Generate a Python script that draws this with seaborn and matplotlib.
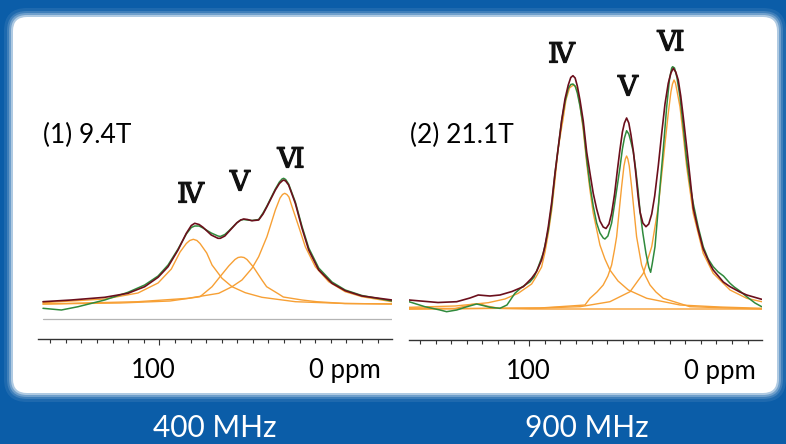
import matplotlib
matplotlib.use('Agg')
import matplotlib.pyplot as plt
import matplotlib.patheffects as pe
import seaborn as sns
from matplotlib.patches import FancyBboxPatch
from matplotlib.transforms import ScaledTranslation

# ---- data (ppm, intensity a.u.) ----
# left panel: 9.4 T (400 MHz)
left_exp_ppm = [174.6, 162.8, 152.1, 135.0, 120.1, 109.4, 100.8, 94.4, 88.0, 82.7, 79.5, 77.3, 74.5, 72.0, 66.7,
                62.4, 60.9, 58.0, 55.5, 50.2, 47.8, 45.9, 43.5, 40.6, 36.3, 33.5, 31.0, 25.6, 23.0, 21.3, 20.3,
                19.0, 17.1, 12.8, 8.5, 4.2, -2.2, -10.7, -19.2, -29.9, -49.2]
left_exp_int = [-4.3, -6.0, -2.7, 4.0, 11.7, 19.0, 28.0, 39.0, 55.0, 70.0, 76.5, 78.0, 78.0, 76.0, 71.0,
                68.0, 67.5, 69.5, 73.0, 81.3, 84.0, 84.5, 84.0, 83.5, 84.5, 91.0, 98.0, 115.0, 122.0, 125.0, 125.7,
                124.5, 120.0, 102.0, 77.5, 56.0, 36.0, 22.0, 14.0, 8.5, 3.0]
left_fit_ppm = [174.6, 156.4, 135.0, 120.1, 109.4, 100.8, 94.4, 88.0, 82.7, 79.5, 77.3, 74.5, 72.0, 66.7, 62.4,
                60.9, 58.0, 55.5, 50.2, 47.8, 45.9, 43.5, 40.6, 36.3, 33.5, 31.0, 25.6, 23.0, 21.3, 20.3, 19.0,
                17.1, 12.8, 8.5, 4.2, -2.2, -10.7, -19.2, -29.9, -49.2]
left_fit_int = [2.3, 4.0, 6.7, 10.7, 17.3, 26.7, 37.3, 54.0, 70.7, 78.5, 80.7, 79.5, 76.7, 69.0, 65.7,
                65.7, 68.0, 72.3, 81.3, 84.0, 85.0, 84.5, 83.3, 84.0, 90.0, 97.3, 114.0, 120.5, 123.0, 124.0, 123.0,
                119.0, 100.7, 75.7, 54.0, 34.0, 20.7, 13.3, 8.0, 4.0]
left_iv_ppm = [174.6, 135.0, 113.7, 100.8, 92.3, 86.7, 82.7, 80.5, 78.2, 75.9, 73.9, 69.6, 66.2, 59.8, 53.4,
               44.9, 34.2, 12.8, -19.0, -49.2]
left_iv_int = [1.3, 5.0, 11.0, 21.0, 35.0, 52.0, 60.5, 63.5, 64.7, 63.5, 60.5, 51.0, 39.0, 25.7, 17.3,
               11.3, 6.7, 2.3, 0.5, 0.0]
left_v_ppm = [174.6, 125.2, 93.1, 73.9, 66.2, 61.9, 55.5, 51.5, 49.5, 47.6, 45.7, 43.8, 39.7, 34.2, 31.2,
              23.5, 20.5, 8.5, -0.9, -19.0, -49.2]
left_v_int = [0.0, 1.0, 3.0, 7.3, 17.3, 25.7, 38.0, 44.5, 46.5, 47.0, 46.5, 44.5, 37.0, 24.0, 17.3,
              10.0, 7.0, 4.0, 2.3, 0.5, 0.0]
left_vi_ppm = [174.6, 113.7, 81.6, 61.9, 53.4, 47.0, 40.6, 36.3, 31.0, 25.6, 22.6, 21.0, 19.6, 18.2, 16.9,
               14.9, 10.6, 6.4, 0.0, -8.6, -19.2, -29.9, -49.2]
left_vi_int = [0.0, 2.3, 5.7, 10.7, 17.3, 24.0, 35.7, 47.3, 67.3, 94.0, 106.0, 109.5, 110.7, 109.5, 107.0,
               97.3, 77.3, 57.3, 37.3, 22.3, 12.3, 7.3, 2.3]
left_ref_level = -15.0

# right panel: 21.1 T (900 MHz)
right_exp_ppm = [177.1, 166.9, 157.2, 153.0, 146.5, 140.6, 133.7, 129.7, 125.2, 118.8, 114.3, 109.2, 104.7, 99.6,
                 96.9, 94.2, 91.0, 87.8, 85.6, 83.5, 81.3, 79.2, 77.1, 75.0, 73.4, 72.0, 70.6, 69.2, 67.5, 65.4,
                 63.2, 61.1, 59.0, 56.8, 54.7, 52.6, 51.5, 49.6, 47.2, 45.3, 43.5, 41.9, 40.3, 39.0, 37.6, 36.2,
                 34.8, 33.3, 31.8, 30.2, 29.0, 27.2, 25.2, 23.4, 22.2, 21.2, 19.4, 17.9, 16.2, 14.1, 11.9, 10.1,
                 8.7, 8.1, 6.9, 5.4, 3.4, 1.3, -0.9, -3.0, -5.1, -8.3, -11.5, -14.7, -17.9, -21.1, -24.5, -28.7,
                 -31.4, -35.0, -39.4, -44.7, -49.0]
right_exp_int = [7.3, 2.3, -1.0, -2.7, -1.0, 2.0, 5.0, 3.5, 1.7, 0.7, 4.0, 15.7, 22.0, 27.0,
                 32.0, 42.3, 56.0, 79.0, 104.0, 136.0, 163.0, 189.0, 207.0, 220.7, 224.5, 225.0, 223.0, 216.0, 203.0, 183.0,
                 150.0, 124.0, 103.0, 86.0, 76.0, 71.0, 70.0, 73.0, 86.0, 105.0, 124.0, 141.0, 160.0, 171.0, 178.3, 175.0,
                 167.0, 157.0, 140.0, 118.0, 98.0, 76.0, 55.7, 42.0, 36.7, 45.0, 62.3, 90.0, 122.3, 160.0, 202.3, 230.0,
                 241.0, 242.3, 241.0, 232.0, 212.3, 183.0, 149.0, 125.0, 105.7, 82.0, 62.3, 50.0, 42.3, 37.0, 33.0, 25.7,
                 22.0, 18.0, 12.3, 6.0, 2.3]
right_fit_ppm = [177.1, 158.5, 146.5, 138.0, 132.7, 125.2, 118.8, 111.1, 103.8, 98.5, 95.3, 92.1, 89.9, 87.8,
                 85.6, 83.5, 81.3, 79.2, 77.1, 75.0, 73.4, 72.0, 70.6, 69.2, 67.5, 65.4, 63.2, 61.1, 59.0, 56.8,
                 54.7, 52.6, 50.8, 48.9, 47.2, 45.3, 43.5, 41.9, 40.3, 39.0, 37.6, 36.2, 34.8, 33.3, 31.8, 30.2,
                 29.0, 27.2, 25.2, 23.4, 21.5, 19.6, 17.3, 15.1, 13.0, 10.9, 9.2, 7.7, 6.1, 4.5, 2.9, 1.3, -0.9,
                 -3.0, -5.1, -8.3, -11.5, -15.8, -17.9, -24.4, -28.7, -35.0, -39.4, -49.0]
right_fit_int = [9.0, 6.5, 7.3, 11.0, 14.0, 13.0, 14.0, 17.5, 22.3, 30.7, 37.5, 49.0, 63.0, 82.3,
                 107.0, 135.7, 163.0, 189.0, 210.0, 224.0, 231.5, 233.3, 231.0, 223.0, 209.0, 188.0, 157.0, 136.0, 115.7, 100.0,
                 88.0, 82.0, 80.5, 85.0, 95.7, 115.0, 139.0, 159.0, 177.0, 186.0, 191.0, 186.0, 174.0, 158.0, 137.0, 112.0,
                 97.0, 86.0, 82.3, 85.0, 95.0, 113.0, 143.0, 175.7, 205.0, 225.7, 236.0, 240.7, 237.0, 229.0, 213.0, 192.3, 162.0,
                 132.3, 101.0, 79.0, 60.0, 45.0, 39.0, 27.0, 22.3, 17.0, 14.0, 9.7]
right_iv_ppm = [177.1, 147.6, 126.3, 115.6, 107.1, 98.5, 95.7, 92.1, 89.9, 87.8, 85.6, 83.5, 81.6, 79.2, 78.4,
                76.5, 74.2, 71.8, 69.4, 67.5, 65.4, 63.2, 61.1, 59.0, 54.7, 51.5, 48.3, 43.1, 36.5, 24.7, 3.4,
                -22.2, -49.0]
right_iv_int = [1.7, 3.0, 6.3, 10.0, 15.7, 25.0, 32.0, 42.0, 57.0, 75.7, 99.0, 129.0, 159.0, 182.0, 189.0,
                209.0, 221.0, 224.0, 221.0, 204.0, 179.0, 146.0, 119.0, 96.0, 64.0, 50.0, 39.0, 28.0, 19.0, 10.7, 4.0,
                2.0, 0.7]
right_v_ppm = [177.1, 93.1, 64.3, 61.1, 56.6, 52.6, 49.6, 47.2, 45.4, 44.0, 42.3, 40.8, 39.3, 38.4, 37.6, 36.8,
               35.9, 34.4, 32.9, 31.2, 29.7, 28.0, 25.5, 22.6, 18.8, 14.1, -3.0, -49.0]
right_v_int = [0.0, 1.0, 4.0, 10.7, 17.0, 24.0, 33.0, 44.0, 59.0, 72.3, 99.0, 122.3, 143.0, 150.0, 153.0, 150.0,
               143.0, 122.3, 99.0, 72.3, 59.0, 44.0, 33.0, 24.0, 17.0, 10.7, 2.3, 0.0]
right_vi_ppm = [177.1, 93.1, 67.5, 48.3, 35.4, 26.9, 21.5, 17.3, 14.1, 10.9, 9.2, 8.2, 7.2, 6.3, 5.4, 3.4, 1.3,
                -0.9, -5.1, -11.5, -17.9, -28.7, -39.4, -49.0]
right_vi_int = [0.0, 1.0, 2.3, 7.3, 17.3, 35.7, 62.3, 102.3, 149.0, 195.7, 217.0, 225.0, 229.0, 226.0, 219.0,
                202.3, 174.0, 142.3, 95.7, 55.7, 35.7, 19.0, 10.7, 7.3]
right_ssb_ppm = [177.1, 147.6, 140.6, 137.0, 133.7, 130.5, 127.1, 118.8, 99.6, -49.0]
right_ssb_int = [1.0, 0.5, 3.0, 4.5, 5.0, 4.5, 3.0, 0.5, 0.0, 0.0]

site_labels = ['\u2163', '\u2164', '\u2165']
left_label_ppm = [80.0, 48.3, 15.6]
left_label_int = [109, 121, 144]
right_label_ppm = [79.4, 36.7, 9.2]
right_label_int = [254, 221, 266]
panel_titles = ['(1) 9.4T', '(2) 21.1T']
field_labels = ['400 MHz', '900 MHz']
minor_ticks = list(range(170, -41, -10))

# ---- style ----
W, H = 786, 444
BLUE = '#0b5da8'
GREEN = '#2f8a3c'
DARKRED = '#6b0f1c'
ORANGE = '#f7a035'

sns.set_theme(style='white')
plt.rcParams['font.family'] = ['Lato', 'DejaVu Sans']

fig = plt.figure(figsize=(W / 100, H / 100), dpi=100)
fig.patch.set_facecolor(BLUE)


def px_box(x0, y0, x1, y1):
    return [x0 / W, 1 - y1 / H, (x1 - x0) / W, (y1 - y0) / H]


# background: white rounded card with soft edge
bg = fig.add_axes([0, 0, 1, 1])
bg.set_xlim(0, W)
bg.set_ylim(H, 0)
bg.axis('off')
for grow, alpha in [(9, 0.08), (6, 0.15), (4, 0.25), (2, 0.45)]:
    bg.add_patch(FancyBboxPatch((13 - grow, 17 - grow), 764 + 2 * grow, 376 + 2 * grow,
                                boxstyle=f'round,pad=0,rounding_size={14 + grow}',
                                fc='white', ec='none', alpha=alpha))
bg.add_patch(FancyBboxPatch((13, 17), 764, 376, boxstyle='round,pad=0,rounding_size=14',
                            fc='white', ec='none'))
for cx, lab in zip([215, 587], field_labels):
    bg.text(cx, 428, lab, color='white', fontsize=21.5, ha='center', va='center')


def draw_panel(ax, curves, label_ppm, label_int, title, title_xy, xlim, ylim, lab100_dx, lab0_dx):
    for ppm, inten, color, lw in curves:
        sns.lineplot(x=ppm, y=inten, ax=ax, color=color, lw=lw, sort=False, estimator=None)
    for lab, xp, yi in zip(site_labels, label_ppm, label_int):
        ax.text(xp, yi, lab, fontsize=20, ha='center', va='center', color='#111111',
                family=['DejaVu Serif', 'DejaVu Sans'],
                path_effects=[pe.withStroke(linewidth=0.9, foreground='#111111')])
    ax.text(title_xy[0], title_xy[1], title, fontsize=19, ha='left', va='center', color='black')
    ax.set_xlim(*xlim)
    ax.set_ylim(*ylim)
    ax.patch.set_alpha(0)
    for side in ['left', 'right', 'top']:
        ax.spines[side].set_visible(False)
    ax.spines['bottom'].set_color('#333333')
    ax.spines['bottom'].set_linewidth(1.0)
    ax.set_yticks([])
    ax.set_xticks([100, 0])
    ax.set_xticklabels(['100', '0 ppm'], fontsize=18.5, color='black')
    ax.set_xticks(minor_ticks, minor=True)
    ax.tick_params(axis='x', which='major', bottom=True, direction='out', length=4.5, width=0.8,
                   color='#333333', pad=9)
    ax.tick_params(axis='x', which='minor', bottom=True, direction='out', length=2.6, width=0.8,
                   color='#333333')
    ax.xaxis.get_major_ticks()[1].tick1line.set_markersize(2.6)
    labs = ax.get_xticklabels()
    labs[0].set_transform(labs[0].get_transform() + ScaledTranslation(lab100_dx / 100, 0, fig.dpi_scale_trans))
    labs[1].set_horizontalalignment('left')
    labs[1].set_transform(labs[1].get_transform() + ScaledTranslation(lab0_dx / 100, 0, fig.dpi_scale_trans))
    ax.set_xlabel('')
    ax.set_ylabel('')


ax1 = fig.add_axes(px_box(38.3, 20, 391.7, 339))
ax1.axhline(left_ref_level, xmin=0.014, xmax=1.0, color='#b4b4b4', lw=0.9)
draw_panel(ax1,
           [(left_iv_ppm, left_iv_int, ORANGE, 1.0),
            (left_v_ppm, left_v_int, ORANGE, 1.0),
            (left_vi_ppm, left_vi_int, ORANGE, 1.0),
            (left_exp_ppm, left_exp_int, GREEN, 1.1),
            (left_fit_ppm, left_fit_int, DARKRED, 1.2)],
           left_label_ppm, left_label_int, panel_titles[0], (174.6, 169),
           (177.6, -49.0), (-35, 284), -6, -6)

ax2 = fig.add_axes(px_box(409, 20, 761.7, 340))
draw_panel(ax2,
           [(right_ssb_ppm, right_ssb_int, ORANGE, 1.0),
            (right_iv_ppm, right_iv_int, ORANGE, 1.0),
            (right_v_ppm, right_v_int, ORANGE, 1.0),
            (right_vi_ppm, right_vi_int, ORANGE, 1.0),
            (right_exp_ppm, right_exp_int, GREEN, 1.1),
            (right_fit_ppm, right_fit_int, DARKRED, 1.2)],
           right_label_ppm, right_label_int, panel_titles[1], (176.5, 174),
           (177.1, -49.0), (-31, 289), -1, -1)

fig.savefig('out.png', dpi=100, facecolor=fig.get_facecolor())
